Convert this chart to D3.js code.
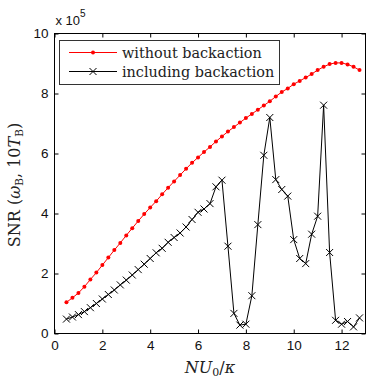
<!DOCTYPE html>
<html>
<head>
<meta charset="utf-8">
<script src="https://cdn.jsdelivr.net/npm/d3@7"></script>
<style>
  html, body { margin: 0; padding: 0; background: #fff; }
  svg { display: block; }
</style>
</head>
<body>
<svg id="chart" width="374" height="384"></svg>
<script>
// ---- data ----
const nu0kappa = [0.5,0.75,1.0,1.25,1.5,1.75,2.0,2.25,2.5,2.75,3.0,3.25,3.5,3.75,4.0,4.25,4.5,4.75,5.0,5.25,
                  5.5,5.75,6.0,6.25,6.5,6.75,7.0,7.25,7.5,7.75,8.0,8.25,8.5,8.75,9.0,9.25,9.5,9.75,10.0,10.25,
                  10.5,10.75,11.0,11.25,11.5,11.75,12.0,12.25,12.5,12.75];
const snrWithout = [1.04,1.19,1.35,1.56,1.80,2.03,2.28,2.53,2.78,3.02,3.27,3.51,3.75,3.98,4.20,4.41,4.64,4.86,5.07,5.28,
                    5.49,5.69,5.87,6.05,6.22,6.40,6.57,6.73,6.88,7.03,7.18,7.32,7.46,7.60,7.74,7.90,8.05,8.17,8.31,8.42,
                    8.53,8.65,8.78,8.89,8.98,9.02,9.02,8.97,8.89,8.78];
const snrIncluding = [0.48,0.55,0.63,0.73,0.86,1.00,1.15,1.30,1.45,1.62,1.78,1.95,2.13,2.31,2.50,2.69,2.84,3.04,3.20,3.35,
                      3.55,3.80,4.04,4.15,4.33,4.89,5.11,2.91,0.67,0.28,0.31,1.26,3.63,5.94,7.20,5.13,4.80,4.58,3.13,2.50,
                      2.33,3.31,3.91,7.61,2.70,0.44,0.31,0.40,0.22,0.52];
const xTicks = [0,2,4,6,8,10,12];
const yTicks = [0,2,4,6,8,10];
const seriesNames = ["without backaction", "including backaction"];

// ---- layout ----
const svg = d3.select("#chart");
const L = 54.5, R = 365.5, T = 33.5, B = 333.5;
const x = d3.scaleLinear().domain([0, 13]).range([L, R]);
const y = d3.scaleLinear().domain([0, 10]).range([B, T]);
const tickFont = "'Liberation Sans', Arial, Helvetica, sans-serif";
const serif = "'DejaVu Serif', serif";

// axes
const gx = svg.append("g").attr("transform", `translate(0,${B})`)
  .call(d3.axisBottom(x).tickValues(xTicks).tickFormat(d3.format("d")).tickSizeInner(-4).tickSizeOuter(0).tickPadding(7));
const gy = svg.append("g").attr("transform", `translate(${L},0)`)
  .call(d3.axisLeft(y).tickValues(yTicks).tickFormat(d3.format("d")).tickSizeInner(-4).tickSizeOuter(0).tickPadding(6));
const gt = svg.append("g").attr("transform", `translate(0,${T})`)
  .call(d3.axisTop(x).tickValues(xTicks).tickFormat("").tickSizeInner(-4).tickSizeOuter(0));
const gr = svg.append("g").attr("transform", `translate(${R},0)`)
  .call(d3.axisRight(y).tickValues(yTicks).tickFormat("").tickSizeInner(-4).tickSizeOuter(0));
[gx, gy, gt, gr].forEach(g => {
  g.select(".domain").remove();
  g.selectAll("line").attr("stroke", "#000").attr("stroke-width", 1);
  g.selectAll("text").attr("font-family", tickFont).attr("font-size", 13.5).attr("fill", "#111");
});

// frame
svg.append("rect").attr("x", L).attr("y", T).attr("width", R - L).attr("height", B - T)
  .attr("fill", "none").attr("stroke", "#000").attr("stroke-width", 1);

// exponent label
const ex = svg.append("text").attr("x", L + 1).attr("y", 25)
  .attr("font-family", tickFont).attr("font-size", 13).attr("fill", "#111");
ex.append("tspan").text("x 10");
ex.append("tspan").attr("dy", -8).attr("font-size", 10).text("5");

// series
const line = d3.line().x(d => x(d[0])).y(d => y(d[1]));
const redData = nu0kappa.map((v, i) => [v, snrWithout[i]]);
const blkData = nu0kappa.map((v, i) => [v, snrIncluding[i]]);

svg.append("path").datum(redData).attr("d", line)
  .attr("fill", "none").attr("stroke", "#ff0000").attr("stroke-width", 1);
svg.append("g").selectAll("circle").data(redData).join("circle")
  .attr("cx", d => x(d[0])).attr("cy", d => y(d[1])).attr("r", 2).attr("fill", "#ff0000");

svg.append("path").datum(blkData).attr("d", line)
  .attr("fill", "none").attr("stroke", "#000").attr("stroke-width", 1);
const xs = 3.5;
const crossPath = (cx, cy) => `M${cx - xs},${cy - xs}L${cx + xs},${cy + xs}M${cx - xs},${cy + xs}L${cx + xs},${cy - xs}`;
svg.append("g").selectAll("path").data(blkData).join("path")
  .attr("d", d => crossPath(x(d[0]), y(d[1])))
  .attr("stroke", "#000").attr("stroke-width", 1).attr("fill", "none");

// legend
const lg = svg.append("g");
lg.append("rect").attr("x", 59.5).attr("y", 40.5).attr("width", 220).attr("height", 44)
  .attr("fill", "#fff").attr("stroke", "#333").attr("stroke-width", 1);
const rows = [52.5, 71.5];
lg.append("line").attr("x1", 69).attr("x2", 117).attr("y1", rows[0]).attr("y2", rows[0])
  .attr("stroke", "#ff0000").attr("stroke-width", 1);
lg.append("circle").attr("cx", 93).attr("cy", rows[0]).attr("r", 2).attr("fill", "#ff0000");
lg.append("line").attr("x1", 69).attr("x2", 117).attr("y1", rows[1]).attr("y2", rows[1])
  .attr("stroke", "#000").attr("stroke-width", 1);
lg.append("path").attr("d", crossPath(93, rows[1])).attr("stroke", "#000").attr("stroke-width", 1);
seriesNames.forEach((name, i) => {
  lg.append("text").attr("x", 122).attr("y", rows[i] + 5)
    .attr("font-family", serif).attr("font-size", 14.4).attr("fill", "#222").text(name);
});

// y label
const yl = svg.append("text").attr("transform", "translate(20,185) rotate(-90)")
  .attr("text-anchor", "middle").attr("font-family", serif).attr("font-size", 16).attr("fill", "#222");
yl.append("tspan").text("SNR (");
yl.append("tspan").attr("font-style", "italic").text("ω");
yl.append("tspan").attr("font-size", 10.5).attr("dy", 3).text("B");
yl.append("tspan").attr("dy", -3).text(", 10");
yl.append("tspan").attr("font-style", "italic").text("T");
yl.append("tspan").attr("font-size", 10.5).attr("dy", 3).text("B");
yl.append("tspan").attr("dy", -3).text(")");

// x label
const xl = svg.append("text").attr("x", 210).attr("y", 373)
  .attr("text-anchor", "middle").attr("font-family", serif).attr("font-size", 16).attr("fill", "#222");
xl.append("tspan").attr("font-style", "italic").text("NU");
xl.append("tspan").attr("font-size", 11).attr("dy", 3).text("0");
xl.append("tspan").attr("dy", -3).text("/");
xl.append("tspan").attr("font-style", "italic").text("κ");
</script>
</body>
</html>
